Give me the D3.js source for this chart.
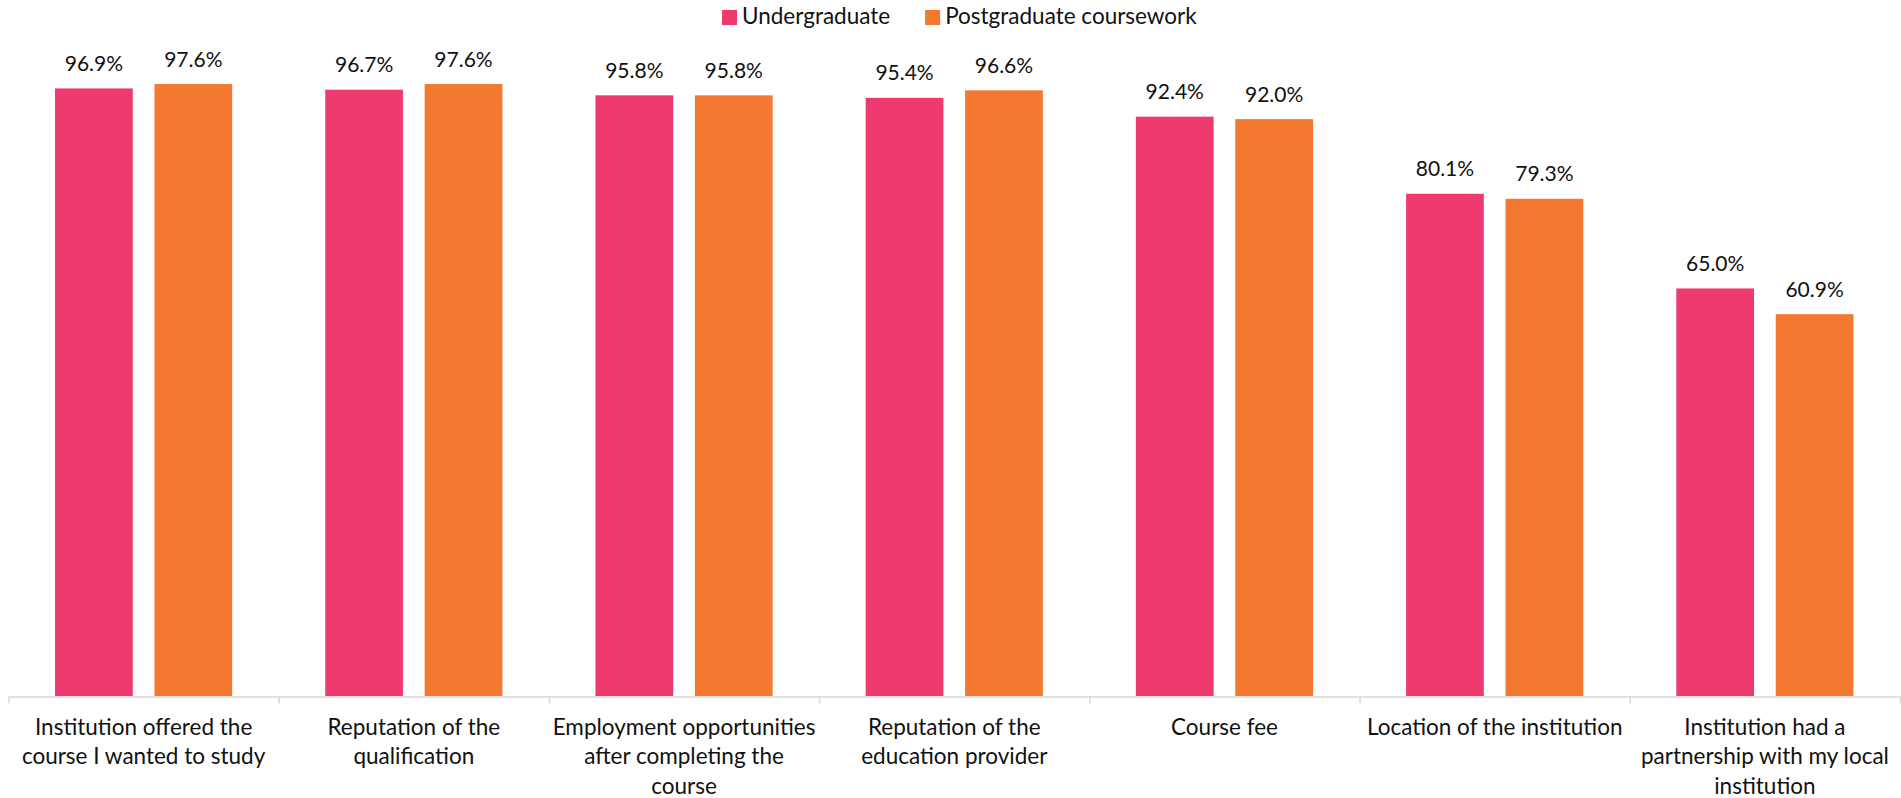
<!DOCTYPE html>
<html>
<head>
<meta charset="utf-8">
<script src="https://cdn.jsdelivr.net/npm/d3@7"></script>
<style>
  html, body { margin: 0; padding: 0; background: #fff; }
  #chart { width: 1901px; height: 798px; }
  text { font-family: Lato, "Liberation Sans", sans-serif; fill: #111; }
</style>
</head>
<body>
<div id="chart"></div>
<script>
// --- data ---
const categories = [
  ["Institution offered the", "course I wanted to study"],
  ["Reputation of the", "qualification"],
  ["Employment opportunities", "after completing the", "course"],
  ["Reputation of the", "education provider"],
  ["Course fee"],
  ["Location of the institution"],
  ["Institution had a", "partnership with my local", "institution"]
];
const seriesNames = ["Undergraduate", "Postgraduate coursework"];
const undergraduate = [96.9, 96.7, 95.8, 95.4, 92.4, 80.1, 65.0];
const postgraduate = [97.6, 97.6, 95.8, 96.6, 92.0, 79.3, 60.9];
const colors = ["#EF3A6F", "#F2792F"];

// --- setup ---
const width = 1901, height = 798;
const svg = d3.select("#chart").append("svg")
  .attr("width", width)
  .attr("height", height);

const idx = d3.range(categories.length);
const x0 = d3.scaleBand().domain(idx).range([8.5, 1900]).padding(0);
const x1 = d3.scaleBand().domain([0, 1]).range([0, x0.bandwidth()])
  .paddingInner(0.218).paddingOuter(0.468);
const y = d3.scaleLinear().domain([0, 100]).range([696, 69]);

const rows = idx.map(i => [undergraduate[i], postgraduate[i]]);

// bars
const groups = svg.append("g").selectAll("g")
  .data(rows)
  .join("g")
  .attr("transform", (d, i) => `translate(${x0(i)},0)`);

groups.selectAll("rect")
  .data(d => d)
  .join("rect")
  .attr("x", (d, j) => x1(j))
  .attr("y", d => y(d))
  .attr("width", x1.bandwidth())
  .attr("height", d => y(0) - y(d))
  .attr("fill", (d, j) => colors[j]);

groups.selectAll("text.val")
  .data(d => d)
  .join("text")
  .attr("class", "val")
  .attr("x", (d, j) => x1(j) + x1.bandwidth() / 2)
  .attr("y", d => y(d) - 17.5)
  .attr("text-anchor", "middle")
  .attr("font-size", "21px")
  .text(d => d.toFixed(1) + "%");

// x axis, ticks sit between categories
const xEdge = d3.scaleLinear().domain([0, categories.length]).range(x0.range());
const axis = svg.append("g")
  .attr("transform", `translate(0,${y(0) + 0.5})`)
  .call(d3.axisBottom(xEdge).tickValues(d3.range(categories.length + 1))
    .tickSize(7).tickSizeOuter(0).tickFormat(""));
axis.selectAll("path, line").attr("stroke", "#D9D9D9").attr("stroke-width", 1.5);

// category labels
const labels = svg.append("g").selectAll("text")
  .data(categories)
  .join("text")
  .attr("text-anchor", "middle")
  .attr("font-size", "22.5px")
  .attr("transform", (d, i) => `translate(${x0(i) + x0.bandwidth() / 2},735)`);

labels.selectAll("tspan")
  .data(d => d)
  .join("tspan")
  .attr("x", 0)
  .attr("y", (d, k) => k * 29.3)
  .text(d => d);

// legend
const legend = svg.append("g").attr("transform", "translate(722,10)");
let lx = 0;
seriesNames.forEach((name, j) => {
  const item = legend.append("g").attr("transform", `translate(${lx},0)`);
  item.append("rect")
    .attr("width", 15)
    .attr("height", 15)
    .attr("fill", colors[j]);
  const t = item.append("text")
    .attr("x", 20)
    .attr("y", 14)
    .attr("font-size", "22.5px")
    .text(name);
  lx += 20 + t.node().getComputedTextLength() + 35;
});
</script>
</body>
</html>
